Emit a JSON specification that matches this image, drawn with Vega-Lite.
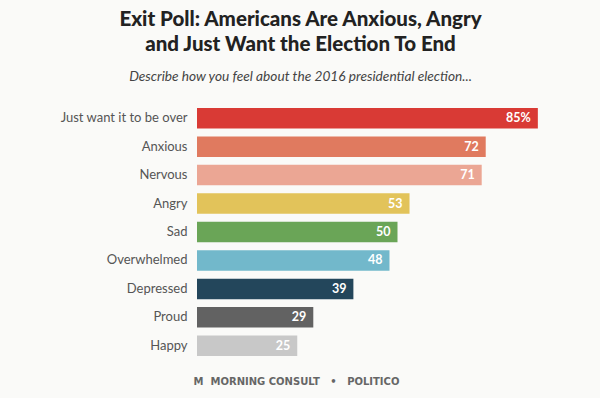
{
  "$schema": "https://vega.github.io/schema/vega-lite/v6.json",
  "width": 401,
  "height": 256,
  "autosize": "none",
  "padding": {"left": 197, "top": 104, "right": 2, "bottom": 38},
  "background": "#fafaf8",
  "title": {
    "text": ["Exit Poll: Americans Are Anxious, Angry", "and Just Want the Election To End"],
    "subtitle": "Describe how you feel about the 2016 presidential election...",
    "anchor": "middle",
    "dx": -97,
    "offset": 20,
    "font": "Lato",
    "fontSize": 20.5,
    "fontWeight": 900,
    "color": "#222222",
    "lineHeight": 25,
    "subtitleFont": "Lato",
    "subtitleFontSize": 13.7,
    "subtitleFontStyle": "italic",
    "subtitleColor": "#444444",
    "subtitlePadding": 15
  },
  "data": {
    "values": [
      {"feeling": "Just want it to be over", "value": 85, "label": "85%"},
      {"feeling": "Anxious", "value": 72, "label": "72"},
      {"feeling": "Nervous", "value": 71, "label": "71"},
      {"feeling": "Angry", "value": 53, "label": "53"},
      {"feeling": "Sad", "value": 50, "label": "50"},
      {"feeling": "Overwhelmed", "value": 48, "label": "48"},
      {"feeling": "Depressed", "value": 39, "label": "39"},
      {"feeling": "Proud", "value": 29, "label": "29"},
      {"feeling": "Happy", "value": 25, "label": "25"}
    ]
  },
  "encoding": {
    "y": {
      "field": "feeling",
      "type": "nominal",
      "sort": null,
      "scale": {"paddingInner": 0.28, "paddingOuter": 0.14},
      "axis": {
        "title": null,
        "domain": false,
        "ticks": false,
        "labelPadding": 10,
        "labelFont": "Lato",
        "labelFontSize": 13,
        "labelColor": "#555555"
      }
    },
    "x": {
      "field": "value",
      "type": "quantitative",
      "scale": {"domain": [0, 100]},
      "axis": {
        "title": "M\u00a0\u00a0MORNING CONSULT\u00a0\u00a0\u00a0•\u00a0\u00a0\u00a0POLITICO",
        "titleFont": "DejaVu Sans",
        "titleFontSize": 10,
        "titleFontWeight": "bold",
        "titleColor": "#666666",
        "titleX": 99,
        "titlePadding": 16,
        "domain": false,
        "ticks": false,
        "labels": false,
        "grid": false
      }
    }
  },
  "layer": [
    {
      "mark": {"type": "bar"},
      "encoding": {
        "color": {
          "field": "feeling",
          "type": "nominal",
          "legend": null,
          "scale": {
            "domain": ["Just want it to be over", "Anxious", "Nervous", "Angry", "Sad", "Overwhelmed", "Depressed", "Proud", "Happy"],
            "range": ["#d93a35", "#e07a5f", "#eba694", "#e2c35a", "#6aa557", "#72b8cb", "#23465b", "#626262", "#c8c8c8"]
          }
        }
      }
    },
    {
      "mark": {"type": "text", "align": "right", "baseline": "middle", "dx": -7, "font": "Lato", "fontSize": 12.5, "fontWeight": "bold", "color": "white"},
      "encoding": {"text": {"field": "label"}}
    }
  ],
  "config": {"view": {"stroke": null}}
}
